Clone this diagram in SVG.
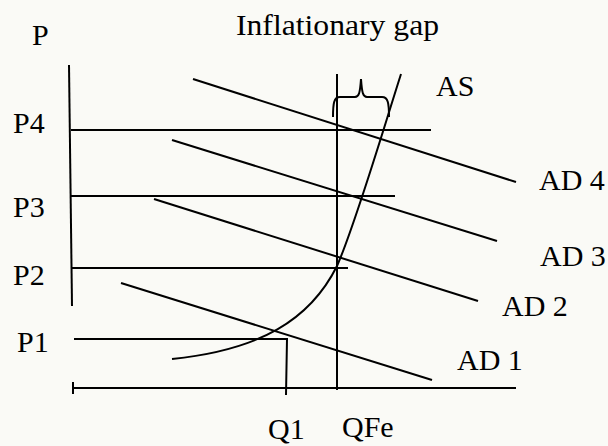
<svg xmlns="http://www.w3.org/2000/svg" width="608" height="446" viewBox="0 0 608 446">
<style>
.ln{fill:none;stroke:#000;stroke-width:2;stroke-linecap:butt}
.t{font-family:"Liberation Serif","Times New Roman",serif;font-size:30px;fill:#000}
</style>
<rect width="608" height="446" fill="#fafaf6"/>
<g id="axes">
<path class="ln" d="M69,65 L72,306"/>
<path class="ln" d="M73,388 L516,388 M73,382 L73,394"/>
</g>
<g id="price-lines">
<path class="ln" d="M71,130 L431,130"/>
<path class="ln" d="M71,196 L395,196"/>
<path class="ln" d="M72,268 L348,268"/>
<path class="ln" d="M74,339 L287,339 L286,395"/>
</g>
<g id="qfe-line">
<path class="ln" d="M337,74 L337,390"/>
</g>
<g id="connectors">
<path id="ad4" class="ln" d="M193,79 L516,182"/>
<path id="ad3" class="ln" d="M172,140 L497,241"/>
<path id="ad2" class="ln" d="M154,199 L478,301"/>
<path id="ad1" class="ln" d="M121,283 L432,380"/>
<path id="as" class="ln" d="M172,359 C260,350 310,320 337,266 C355,225 380,140 401,74"/>
<path id="brace" class="ln" d="M333,117 C333,103 334,97 340,97 L355,97 C359,97 360,93 361,79 C362,93 363,97 367,97 L382,97 C388,97 389,103 389,117"/>
</g>
<g id="labels">
<text class="t" x="32" y="45">P</text>
<text class="t" x="236" y="35" textLength="203" lengthAdjust="spacingAndGlyphs">Inflationary gap</text>
<text class="t" x="436" y="96">AS</text>
<text class="t" x="13" y="133">P4</text>
<text class="t" x="13" y="217">P3</text>
<text class="t" x="13" y="285">P2</text>
<text class="t" x="17" y="352">P1</text>
<text class="t" x="539" y="190">AD 4</text>
<text class="t" x="540" y="266">AD 3</text>
<text class="t" x="502" y="316">AD 2</text>
<text class="t" x="457" y="370">AD 1</text>
<text class="t" x="268" y="439">Q1</text>
<text class="t" x="342" y="437">QFe</text>
</g>
</svg>
